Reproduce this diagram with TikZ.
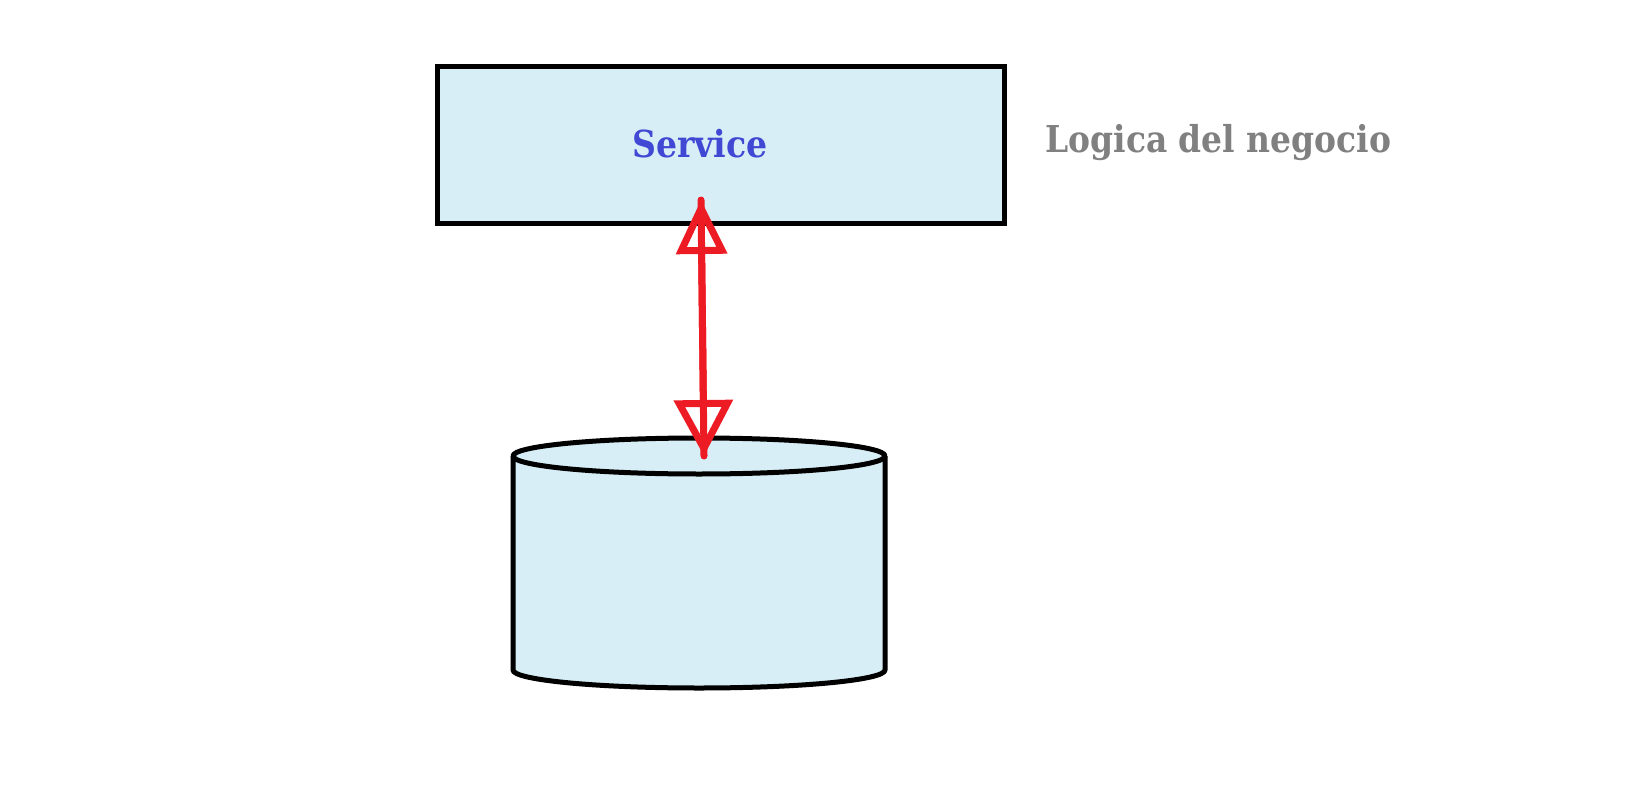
\documentclass[tikz,border=0pt]{standalone}
\usepackage{fontspec}
\usepackage{xcolor}
\usepackage{tikz}
\usetikzlibrary{arrows.meta,positioning}
\newfontfamily\notefont[FakeStretch=0.89]{DejaVu Serif}
\definecolor{boxfill}{RGB}{215,238,246}
\definecolor{svcblue}{RGB}{65,72,212}
\definecolor{notegray}{RGB}{128,128,128}
\definecolor{linkred}{RGB}{237,28,36}
\tikzset{
	layer/.style = {draw, line width=2.5pt, fill=boxfill, rectangle, inner sep=0pt},
	store/.style = {draw, line width=2.5pt, fill=boxfill, line join=round},
	title/.style = {font=\notefont\bfseries\fontsize{18.6pt}{20pt}\selectfont, text=svcblue, inner sep=0pt},
	note/.style  = {font=\notefont\bfseries\fontsize{18.5pt}{20pt}\selectfont, text=notegray, inner sep=0pt},
	shaft/.style = {draw=linkred, line width=3.5pt, line cap=round},
	link/.style  = {draw=linkred, line width=3.5pt, line join=round,
		{Triangle[open, length=27pt, width=25pt]}-{Triangle[open, length=28pt, width=29pt]}}
}
\begin{document}
\begin{tikzpicture}[x=0.5pt, y=-0.5pt]
	\useasboundingbox (0,0) rectangle (1649,792);
	
	% the business layer
	\node[layer, minimum width=283.5pt, minimum height=78pt] (service) at (720.5,145) {};
	\node[title, anchor=base] (servicetxt) at (700,157) {Service};
	\node[note, anchor=base west] (logica) at (1045,153) {Logica del negocio};
	
	% the data store, body first and then its lid
	\draw[store] (513,456) -- (513,670) arc[start angle=180, end angle=0, x radius=186, y radius=18] -- (885,456);
	\draw[store] (699,456) ellipse [x radius=186, y radius=18];
	\coordinate (db) at (699,456);
	
	% ends of the link
	\coordinate (svcend) at (701,200);
	\coordinate (dbend) at ([xshift=2.5pt]db);
	\draw[shaft] (svcend) -- (dbend);
	\draw[link] (svcend) -- (dbend);
\end{tikzpicture}
\end{document}
